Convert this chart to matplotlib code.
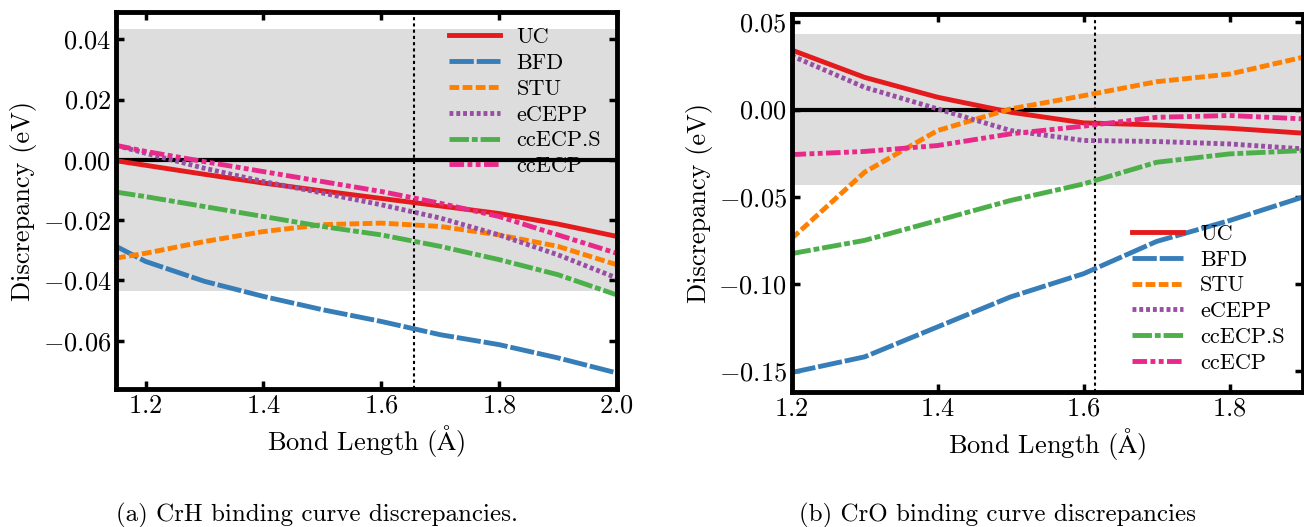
import matplotlib
matplotlib.use("Agg")
import matplotlib.pyplot as plt

plt.rcParams["font.family"] = ["cmr10", "DejaVu Serif"]
plt.rcParams["mathtext.fontset"] = "cm"
plt.rcParams["axes.formatter.use_mathtext"] = True
plt.rcParams["axes.unicode_minus"] = True

# CrH discrepancies (eV)
crh_x = [1.15, 1.2, 1.3, 1.4, 1.5, 1.6, 1.7, 1.8, 1.9, 2.0]
crh_uc = [-0.0003, -0.0018, -0.0048, -0.0077, -0.0103, -0.0128, -0.0153, -0.0178, -0.0213, -0.0254]
crh_bfd = [-0.0287, -0.0337, -0.0403, -0.0453, -0.0497, -0.0536, -0.0580, -0.0613, -0.0657, -0.0707]
crh_stu = [-0.0326, -0.0310, -0.0271, -0.0238, -0.0215, -0.0210, -0.0221, -0.0249, -0.0287, -0.0348]
crh_ecepp = [0.0048, 0.0022, -0.0028, -0.0072, -0.0110, -0.0149, -0.0193, -0.0249, -0.0315, -0.0392]
crh_ccecps = [-0.0107, -0.0122, -0.0155, -0.0188, -0.0221, -0.0249, -0.0287, -0.0331, -0.0381, -0.0448]
crh_ccecp = [0.0048, 0.0028, -0.0006, -0.0039, -0.0072, -0.0105, -0.0144, -0.0188, -0.0249, -0.0310]
crh_eq = 1.656

# CrO discrepancies (eV)
cro_x = [1.2, 1.3, 1.4, 1.5, 1.6, 1.7, 1.8, 1.9]
cro_uc = [0.0342, 0.0185, 0.0071, -0.0015, -0.0076, -0.0088, -0.0107, -0.0135]
cro_bfd = [-0.1508, -0.1418, -0.1246, -0.1074, -0.0941, -0.0756, -0.0636, -0.0502]
cro_stu = [-0.0740, -0.0359, -0.0120, 0.0004, 0.0080, 0.0160, 0.0204, 0.0300]
cro_ecepp = [0.0309, 0.0128, 0.0004, -0.0120, -0.0177, -0.0183, -0.0197, -0.0225]
cro_ccecps = [-0.0826, -0.0750, -0.0636, -0.0521, -0.0426, -0.0302, -0.0254, -0.0235]
cro_ccecp = [-0.0258, -0.0240, -0.0206, -0.0139, -0.0095, -0.0044, -0.0034, -0.0053]
cro_eq = 1.615

chem_acc = 0.0434  # 1 kcal/mol band

labels = ["UC", "BFD", "STU", "eCEPP", "ccECP.S", "ccECP"]
colors = ["#e41a1c", "#377eb8", "#ff7f00", "#984ea3", "#4daf4a", "#e7298a"]
styles = ["-", (0, (5, 0.6)), (0, (2, 0.7)), (0, (0.8, 0.6)),
          (0, (4, 0.6, 1.2, 0.6)), (0, (3, 0.7, 1, 0.7, 1, 0.7))]

fig = plt.figure(figsize=(13.04, 5.27), dpi=100)
ax1 = fig.add_axes([0.089, 0.262, 0.384, 0.715])
ax2 = fig.add_axes([0.607, 0.256, 0.392, 0.718])


def draw(ax, x, series, eq, xlim, ylim, loc, anchor):
    ax.axhspan(-chem_acc, chem_acc, color="#dddddd", lw=0, zorder=0)
    ax.axhline(0, color="black", lw=3, zorder=1)
    ax.axvline(eq, color="black", lw=1.5, ls=(0, (1.5, 1.5)), zorder=1)
    for y, lab, c, ls in zip(series, labels, colors, styles):
        ax.plot(x, y, color=c, ls=ls, lw=3.5, label=lab, zorder=2)
    ax.set_xlim(*xlim)
    ax.set_ylim(*ylim)
    ax.set_xlabel(r"Bond Length ($\mathrm{\AA}$)", fontsize=19)
    ax.set_ylabel("Discrepancy (eV)", fontsize=19)
    ax.tick_params(direction="in", top=True, right=True, labelsize=19, width=2.5, length=6)
    for sp in ax.spines.values():
        sp.set_linewidth(3.5)
    ax.legend(loc=loc, bbox_to_anchor=anchor, frameon=False, fontsize=16,
              handlelength=2.3, handletextpad=0.75, labelspacing=0.28, borderpad=0.2)


draw(ax1, crh_x, [crh_uc, crh_bfd, crh_stu, crh_ecepp, crh_ccecps, crh_ccecp],
     crh_eq, (1.15, 2.0), (-0.076, 0.049), "upper right", (1.0, 1.0))
ax1.set_xticks([1.2, 1.4, 1.6, 1.8, 2.0])
ax1.set_yticks([-0.06, -0.04, -0.02, 0.0, 0.02, 0.04])

draw(ax2, cro_x, [cro_uc, cro_bfd, cro_stu, cro_ecepp, cro_ccecps, cro_ccecp],
     cro_eq, (1.2, 1.9), (-0.162, 0.055), "lower right", (0.995, 0.01))
ax2.set_xticks([1.2, 1.4, 1.6, 1.8])
ax2.set_yticks([-0.15, -0.10, -0.05, 0.0, 0.05])

fig.text(0.243, 0.022, "(a) CrH binding curve discrepancies.", ha="center", va="center", fontsize=18)
fig.text(0.765, 0.022, "(b) CrO binding curve discrepancies", ha="center", va="center", fontsize=18)

fig.savefig("out.png", dpi=100)
